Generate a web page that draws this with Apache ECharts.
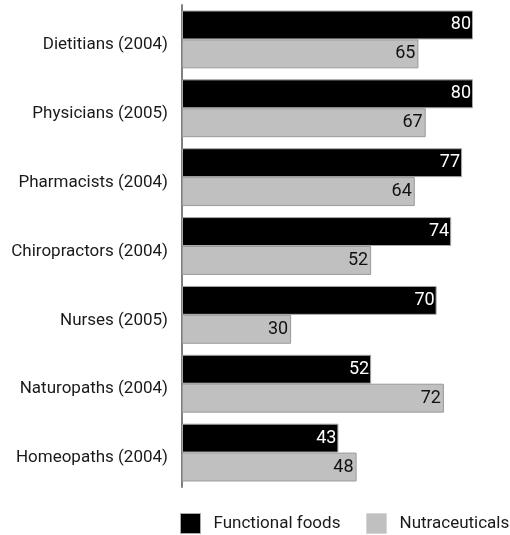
<!DOCTYPE html>
<html>
<head>
<meta charset="utf-8">
<script src="https://cdn.jsdelivr.net/npm/echarts@6/dist/echarts.min.js"></script>
<style>
  html, body { margin: 0; padding: 0; background: #fff; }
  #chart { width: 510px; height: 535px; }
</style>
</head>
<body>
<div id="chart"></div>
<script>
// Professions surveyed (year of survey)
const categories = [
  'Dietitians (2004)',
  'Physicians (2005)',
  'Pharmacists (2004)',
  'Chiropractors (2004)',
  'Nurses (2005)',
  'Naturopaths (2004)',
  'Homeopaths (2004)'
];
const functionalFoods = [80, 80, 77, 74, 70, 52, 43];
const nutraceuticals = [65, 67, 64, 52, 30, 72, 48];
const seriesNames = ['Functional foods', 'Nutraceuticals'];

const FONT = 'Roboto, "Liberation Sans", sans-serif';

// One legend entry per component so both sit on a single line
function legendEntry(name, left, borderColor) {
  return {
    top: 513,
    left: left,
    padding: 0,
    itemWidth: 20,
    itemHeight: 20,
    icon: 'rect',
    textStyle: { color: '#1a1a1a', fontSize: 17, fontFamily: FONT, padding: [0, 0, 0, 8] },
    data: [{ name: name, itemStyle: { borderColor: borderColor, borderWidth: 1 } }]
  };
}

const chart = echarts.init(document.getElementById('chart'), null, { renderer: 'canvas' });
chart.setOption({
  animation: false,
  textStyle: { fontFamily: FONT },
  grid: { left: 182, right: 37, top: 5, bottom: 48, containLabel: false },
  xAxis: {
    type: 'value',
    min: 0,
    max: 80,
    show: false
  },
  yAxis: {
    type: 'category',
    data: categories,
    inverse: true,
    axisLine: { show: true, lineStyle: { color: '#808080', width: 2 } },
    axisTick: { show: false },
    axisLabel: {
      margin: 14,
      formatter: (v) => '{c|' + v + '}',
      rich: {
        c: {
          color: '#1a1a1a',
          fontSize: 17,
          fontFamily: FONT,
          padding: [11, 0, 0, 0]
        }
      }
    }
  },
  legend: [
    legendEntry(seriesNames[0], 180, '#a8a8a8'),
    legendEntry(seriesNames[1], 366, '#d6d6d6')
  ],
  series: [
    {
      name: seriesNames[0],
      type: 'bar',
      data: functionalFoods,
      barGap: '0%',
      barCategoryGap: '16%',
      itemStyle: { color: '#000', borderColor: '#a8a8a8', borderWidth: 1 },
      label: {
        show: true,
        position: 'insideRight',
        distance: 2,
        color: '#fff',
        fontSize: 18,
        fontFamily: FONT,
        padding: [5, 0, 0, 0]
      }
    },
    {
      name: seriesNames[1],
      type: 'bar',
      data: nutraceuticals,
      barGap: '0%',
      barCategoryGap: '16%',
      itemStyle: { color: '#c0c0c0', borderColor: '#9a9a9a', borderWidth: 1 },
      label: {
        show: true,
        position: 'insideRight',
        distance: 3,
        color: '#111',
        fontSize: 18,
        fontFamily: FONT,
        padding: [5, 0, 0, 0]
      }
    }
  ]
});
</script>
</body>
</html>
